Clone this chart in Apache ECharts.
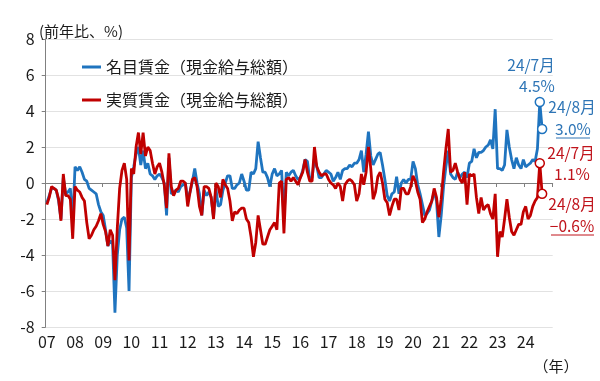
<!DOCTYPE html>
<html>
<head>
<meta charset="utf-8">
<script src="https://cdn.jsdelivr.net/npm/echarts@6/dist/echarts.min.js"></script>
<style>html,body{margin:0;padding:0;background:#fff}#c{width:600px;height:381px}</style>
</head>
<body>
<div id="c"></div>
<script>
// Tick labels (years) — monthly categories are built from these
const yearLabels = ['07','08','09','10','11','12','13','14','15','16','17','18','19','20','21','22','23','24'];

// 名目賃金（現金給与総額） y/y %, monthly from 2007/01 to 2024/08
const nominalWage = [
  -1.1,-0.7,-0.3,-0.3,-0.4,-1.0,-2.0,0.3,-0.6,-0.5,-0.3,-2.2,
  0.9,0.7,0.9,0.6,0.2,0.1,-0.3,-0.4,-0.5,-0.6,-1.2,-1.6,
  -1.8,-2.6,-3.5,-3.2,-3.4,-7.2,-4.0,-2.6,-2.0,-1.9,-2.5,-6.0,
  0.3,0.9,1.6,2.0,1.0,1.8,0.8,1.1,0.5,0.4,0.2,0.4,
  0.5,0.3,0.0,-1.8,1.4,-0.6,-0.5,-0.4,-0.5,-0.2,-0.1,0.0,
  -0.9,-0.5,0.1,0.8,0.0,-0.6,-1.8,-0.4,-0.7,-0.5,-0.8,-1.9,
  -0.3,-1.3,-1.2,-0.4,0.0,0.4,0.4,-0.3,-0.3,-0.1,0.0,0.5,
  0.1,-0.4,-0.4,0.6,0.5,0.8,2.3,1.4,0.6,0.6,0.3,-0.2,
  0.5,0.8,0.4,0.5,0.7,-2.0,0.6,0.4,0.6,0.7,0.4,0.2,
  0.3,0.7,1.3,1.2,0.2,0.3,1.4,0.9,0.3,0.3,0.5,0.7,
  0.6,0.5,0.1,0.3,0.6,0.2,0.7,0.8,0.8,1.0,0.9,1.1,
  1.1,1.3,1.8,0.6,1.6,2.85,1.5,1.0,1.3,1.6,1.7,1.0,
  0.2,-0.7,-1.0,-0.6,-0.5,0.35,-0.6,0.0,0.2,0.0,0.2,0.2,
  1.2,0.8,-0.1,-0.6,-1.2,-1.8,-1.7,-1.5,-1.0,-0.5,-1.0,-3.0,
  -1.8,-0.2,0.9,1.8,0.5,0.3,0.2,0.6,0.3,0.5,0.6,0.3,
  1.1,1.2,1.9,1.4,1.7,1.7,1.8,2.0,2.1,2.4,1.9,4.1,
  0.8,0.8,0.7,1.0,2.95,2.0,1.3,0.8,1.4,1.0,0.8,1.3,
  0.9,1.0,1.1,1.3,1.2,1.9,4.5,3.0
];

// 実質賃金（現金給与総額） y/y %, monthly from 2007/01 to 2024/08
const realWage = [
  -1.2,-0.8,-0.2,-0.3,-0.4,-0.9,-2.1,0.5,-0.7,-0.7,-0.9,-3.1,
  -0.2,-0.4,-0.5,-0.8,-1.0,-2.2,-3.1,-2.9,-2.6,-2.4,-2.1,-1.7,
  -2.3,-2.7,-3.5,-2.6,-2.9,-5.4,-2.5,-0.3,0.7,1.1,0.2,-4.3,
  0.8,0.5,2.0,2.8,1.6,2.8,1.5,2.0,1.8,1.1,0.5,0.9,
  1.1,0.6,-0.1,-1.4,1.65,-0.2,-0.7,-0.4,-0.3,0.1,0.1,0.0,
  -1.3,-0.5,0.2,0.3,-0.2,-1.3,-1.8,-0.2,-0.2,-0.3,-0.8,-2.0,
  0.0,-0.2,-0.8,0.2,-0.1,-0.3,-1.0,-2.1,-1.6,-1.7,-1.5,-1.4,
  -1.4,-2.0,-2.2,-3.0,-4.1,-3.3,-1.8,-2.6,-3.4,-3.4,-3.0,-2.6,
  -2.4,-2.2,-2.6,0.0,0.1,-2.8,0.2,0.3,0.1,0.3,0.1,-0.1,
  0.3,0.6,1.3,0.6,0.1,0.1,2.0,0.9,0.6,0.4,0.5,0.5,
  0.2,0.0,-0.1,-0.3,0.0,-0.2,-1.0,-0.1,0.1,0.2,0.1,-0.1,
  -1.0,-0.6,0.5,-0.1,0.6,2.0,0.8,-0.9,-0.5,0.35,0.6,0.0,
  -0.9,-1.1,-1.8,-1.3,-0.9,-0.9,-1.5,-0.3,-0.3,-0.6,-0.6,-0.2,
  0.4,0.1,-0.5,-0.9,-2.2,-2.0,-1.6,-1.3,-1.0,-0.3,-0.8,-1.9,
  -0.9,0.6,1.9,3.0,0.6,0.7,1.1,0.6,0.2,0.0,0.6,-1.2,
  0.5,0.4,0.5,-0.8,-1.7,-0.8,-1.5,-1.3,-1.2,-1.7,-2.0,-0.6,
  -4.1,-2.7,-3.0,-2.0,-0.9,-1.9,-2.7,-2.9,-2.6,-2.3,-2.3,-1.6,
  -1.3,-2.0,-1.8,-1.3,-1.0,-0.8,1.1,-0.6
];

const seriesNames = ['名目賃金（現金給与総額）', '実質賃金（現金給与総額）'];
const annotations = {
  nomJul: ['24/7月', '4.5%'],
  nomAug: ['24/8月', '3.0%'],
  realJul: ['24/7月', '1.1%'],
  realAug: ['24/8月', '−0.6%']
};

const BLUE = '#1f74bf', RED = '#c00000';
const BLUE_TXT = '#2e75b6', RED_TXT = '#c0141c';
const FONT = '"Noto Sans CJK JP", "Noto Sans", sans-serif';

const months = [];
yearLabels.forEach(y => { for (let m = 1; m <= 12; m++) months.push(y + '/' + String(m).padStart(2, '0')); });

function withEndMarkers(arr, color) {
  return arr.map((v, i) => i >= arr.length - 2
    ? { value: v, symbol: 'circle', symbolSize: 9, itemStyle: { color: '#fff', borderColor: color, borderWidth: 1.5 } }
    : v);
}

function txt(x, y, text, color, size, align) {
  return { type: 'text', x: x, y: y, z: 100, style: { text: text, fill: color, fontSize: size, fontFamily: FONT,
    textAlign: align || 'center', textVerticalAlign: 'middle', verticalAlign: 'middle' } };
}
function uline(x1, x2, y, color) {
  return { type: 'line', z: 100, shape: { x1: x1, y1: y, x2: x2, y2: y }, style: { stroke: color, lineWidth: 1 } };
}

const chart = echarts.init(document.getElementById('c'), null, { renderer: 'canvas' });
chart.setOption({
  animation: false,
  backgroundColor: '#fff',
  grid: { left: 45.7, right: 47.3, top: 39, bottom: 54, containLabel: false },
  legend: {
    data: seriesNames,
    orient: 'vertical',
    left: 77, top: 52,
    icon: 'rect', itemWidth: 19, itemHeight: 3, itemGap: 13,
    textStyle: { fontSize: 16, color: '#1a1a1a', fontFamily: FONT, lineHeight: 20 }
  },
  xAxis: [
    {
      type: 'category', data: months, boundaryGap: true,
      axisLine: { show: false, onZero: false }, axisTick: { show: false }, splitLine: { show: false },
      axisLabel: { interval: 11, formatter: v => v.slice(0, 2), fontSize: 16, color: '#1a1a1a', fontFamily: FONT, margin: 7 }
    },
    {
      type: 'category', data: months, boundaryGap: true, position: 'bottom',
      axisLine: { show: true, onZero: true, lineStyle: { color: '#808080', width: 1 } },
      axisTick: { show: true, interval: 11, length: 4, lineStyle: { color: '#808080' } },
      axisLabel: { show: false }, splitLine: { show: false }
    }
  ],
  yAxis: {
    type: 'value', min: -8, max: 8, interval: 2,
    axisLine: { show: true, lineStyle: { color: '#808080', width: 1 } },
    axisTick: { show: true, length: 4, lineStyle: { color: '#808080' } },
    axisLabel: { fontSize: 16, color: '#1a1a1a', fontFamily: FONT, margin: 11 },
    splitLine: { show: true, lineStyle: { color: '#e2e2e2', width: 1 } }
  },
  series: [
    {
      name: seriesNames[0], type: 'line', xAxisIndex: 0, data: withEndMarkers(nominalWage, BLUE),
      symbol: 'none', showAllSymbol: true, lineStyle: { color: BLUE, width: 2.8 }, itemStyle: { color: BLUE }, z: 2
    },
    {
      name: seriesNames[1], type: 'line', xAxisIndex: 0, data: withEndMarkers(realWage, RED),
      symbol: 'none', showAllSymbol: true, lineStyle: { color: RED, width: 2.8 }, itemStyle: { color: RED }, z: 3
    }
  ],
  graphic: [
    txt(39, 31, '(前年比、%)', '#1a1a1a', 15, 'left'),
    txt(556, 366, '（年）', '#1a1a1a', 15),
    txt(531, 65, annotations.nomJul[0], BLUE_TXT, 15.5),
    txt(537, 86, annotations.nomJul[1], BLUE_TXT, 15.5),
    txt(572, 107, annotations.nomAug[0], BLUE_TXT, 15.5),
    txt(573, 129, annotations.nomAug[1], BLUE_TXT, 15.5),
    uline(556, 590, 138, BLUE_TXT),
    txt(571, 153, annotations.realJul[0], RED_TXT, 15.5),
    txt(572, 174, annotations.realJul[1], RED_TXT, 15.5),
    txt(572, 204, annotations.realAug[0], RED_TXT, 15.5),
    txt(572, 226, annotations.realAug[1], RED_TXT, 15.5),
    uline(551, 594, 235, RED_TXT)
  ]
});
</script>
</body>
</html>
